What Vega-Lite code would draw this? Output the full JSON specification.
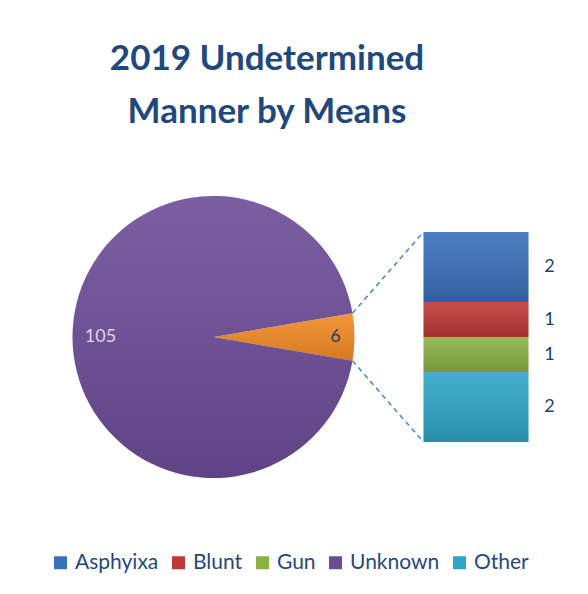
{
  "$schema": "https://vega.github.io/schema/vega-lite/v6.json",
  "width": 588,
  "height": 364,
  "padding": {"top": 42, "left": 0, "right": 0, "bottom": 0},
  "background": "white",
  "title": {
    "text": ["2019 Undetermined", "Manner by Means"],
    "fontSize": 35,
    "font": "Lato",
    "fontWeight": "bold",
    "color": "#1f497d",
    "lineHeight": 53,
    "offset": 18,
    "anchor": "middle",
    "dx": -27,
    "frame": "group"
  },
  "config": {
    "view": {"stroke": null},
    "font": "Lato"
  },
  "datasets": {
    "means": [
      {"means": "Asphyixa", "count": 2},
      {"means": "Blunt", "count": 1},
      {"means": "Gun", "count": 1},
      {"means": "Unknown", "count": 105},
      {"means": "Other", "count": 2}
    ]
  },
  "layer": [
    {
      "data": {"name": "means"},
      "transform": [
        {"calculate": "datum.means == 'Unknown' ? 'Unknown' : 'Others'", "as": "means"},
        {"aggregate": [{"op": "sum", "field": "count", "as": "count"}], "groupby": ["means"]}
      ],
      "encoding": {
        "x": {"datum": 0, "type": "quantitative", "scale": {"domain": [-6.1, 10.7], "nice": false, "zero": false}, "axis": null},
        "y": {"datum": 3, "type": "quantitative", "scale": {"domain": [-2, 8.4], "nice": false, "zero": false}, "axis": null},
        "theta": {"field": "count", "type": "quantitative", "stack": true, "scale": {"range": [1.4010, 7.6842]}},
        "order": {"field": "means", "sort": "ascending"}
      },
      "layer": [
        {
          "mark": {"type": "arc", "radius": 141},
          "encoding": {
            "color": {
              "condition": {"test": "datum.means == 'Others'", "value": "#f28a24"},
              "field": "means",
              "type": "nominal",
              "scale": {
                "domain": ["Asphyixa", "Blunt", "Gun", "Unknown", "Other"],
                "range": ["#386fb9", "#bd3836", "#8bb142", "#6c4c97", "#2ea5c6"]
              },
              "legend": {
                "orient": "none",
                "legendX": 50,
                "legendY": 404,
                "direction": "horizontal",
                "title": null,
                "symbolType": "square",
                "symbolSize": 169,
                "symbolStrokeWidth": 0,
                "labelFontSize": 21,
                "labelFont": "Lato",
                "labelColor": "#1f497d",
                "labelOffset": 4,
                "columnPadding": 9,
                "padding": 0
              }
            }
          }
        },
        {
          "mark": {
            "type": "arc",
            "radius": 141,
            "color": {
              "gradient": "linear", "x1": 0, "y1": 0, "x2": 0, "y2": 1,
              "stops": [
                {"offset": 0, "color": "rgba(255,255,255,0.10)"},
                {"offset": 1, "color": "rgba(0,0,0,0.12)"}
              ]
            }
          }
        },
        {
          "mark": {"type": "text", "radius": 113, "fontSize": 18, "font": "Lato", "color": "#ddd6e8"},
          "encoding": {
            "text": {"condition": {"test": "datum.means == 'Unknown'", "field": "count", "type": "quantitative"}, "value": ""}
          }
        },
        {
          "mark": {"type": "text", "radius": 122, "fontSize": 18, "font": "Lato", "color": "#1f3f6e"},
          "encoding": {
            "text": {"condition": {"test": "datum.means == 'Others'", "field": "count", "type": "quantitative"}, "value": ""}
          }
        }
      ]
    },
    {
      "data": {"name": "means"},
      "transform": [
        {"filter": "datum.means != 'Unknown'"},
        {"calculate": "indexof(['Other', 'Gun', 'Blunt', 'Asphyixa'], datum.means)", "as": "rank"},
        {"stack": "count", "groupby": [], "sort": [{"field": "rank", "order": "ascending"}], "as": ["y0", "y1"]},
        {"calculate": "(datum.y0 + datum.y1) / 2", "as": "mid"}
      ],
      "layer": [
        {
          "mark": {"type": "bar"},
          "encoding": {
            "x": {"datum": 6, "type": "quantitative"},
            "x2": {"datum": 9},
            "y": {"field": "y0", "type": "quantitative", "axis": null},
            "y2": {"field": "y1"},
            "color": {"field": "means", "type": "nominal"}
          }
        },
        {
          "mark": {
            "type": "bar",
            "color": {
              "gradient": "linear", "x1": 0, "y1": 0, "x2": 0, "y2": 1,
              "stops": [
                {"offset": 0, "color": "rgba(255,255,255,0.10)"},
                {"offset": 1, "color": "rgba(0,0,0,0.15)"}
              ]
            }
          },
          "encoding": {
            "x": {"datum": 6, "type": "quantitative"},
            "x2": {"datum": 9},
            "y": {"field": "y0", "type": "quantitative", "axis": null},
            "y2": {"field": "y1"}
          }
        },
        {
          "mark": {"type": "text", "fontSize": 18, "font": "Lato", "color": "#1f3f6e", "align": "center", "baseline": "middle"},
          "encoding": {
            "x": {"datum": 9.6, "type": "quantitative"},
            "y": {"field": "mid", "type": "quantitative", "axis": null},
            "text": {"field": "count", "type": "quantitative"}
          }
        }
      ]
    },
    {
      "data": {"values": [{}]},
      "mark": {"type": "rule", "strokeDash": [5, 4], "strokeWidth": 1.6, "color": "#4f8bd4"},
      "encoding": {
        "x": {"datum": 3.97, "type": "quantitative"},
        "y": {"datum": 3.68, "type": "quantitative"},
        "x2": {"datum": 6},
        "y2": {"datum": 6}
      }
    },
    {
      "data": {"values": [{}]},
      "mark": {"type": "rule", "strokeDash": [5, 4], "strokeWidth": 1.6, "color": "#4f8bd4"},
      "encoding": {
        "x": {"datum": 3.97, "type": "quantitative"},
        "y": {"datum": 2.32, "type": "quantitative"},
        "x2": {"datum": 6},
        "y2": {"datum": 0}
      }
    }
  ]
}
